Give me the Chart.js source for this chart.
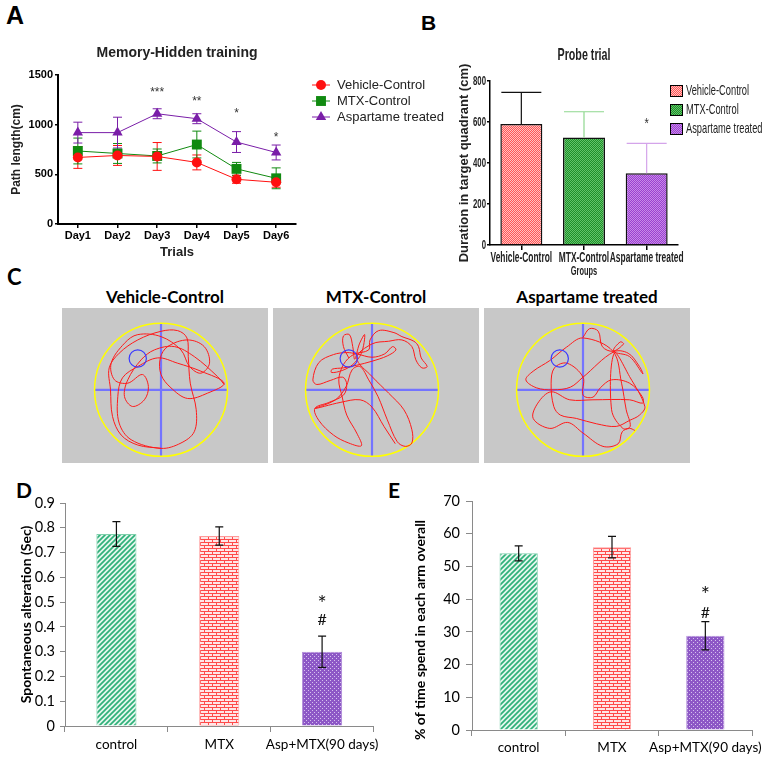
<!DOCTYPE html>
<html>
<head>
<meta charset="utf-8">
<script src="https://cdn.jsdelivr.net/npm/chart.js@4.4.1/dist/chart.umd.min.js"></script>
<style>
body { margin: 0; background: #fff; width: 771px; height: 763px; position: relative; overflow: hidden; }
canvas { position: absolute; }
.letter { position: absolute; font-weight: bold; color: #000; line-height: 1; }
.ctitle { position: absolute; width: 206px; text-align: center; font: bold 17px Lato, 'Open Sans', sans-serif; color: #000; }
.pool { background: #c8c8c8; }
</style>
</head>
<body>
<div class="letter" style="left:6px;top:3px;font-size:25px;font-family:'Liberation Sans',Arial">A</div>
<div class="letter" style="left:421px;top:12px;font-size:21px;font-family:'Liberation Sans',Arial">B</div>
<div class="letter" style="left:7px;top:266px;font-size:22px;font-family:Lato,sans-serif">C</div>
<div class="letter" style="left:16px;top:479px;font-size:21px;font-family:Lato,sans-serif">D</div>
<div class="letter" style="left:388px;top:479px;font-size:21px;font-family:Lato,sans-serif">E</div>

<div class="ctitle" style="left:62px;top:286px">Vehicle-Control</div>
<div class="ctitle" style="left:273px;top:286px">MTX-Control</div>
<div class="ctitle" style="left:484px;top:286px">Aspartame treated</div>

<canvas id="chartA" width="450" height="262" style="left:0;top:0"></canvas>
<canvas id="chartB" width="381" height="282" style="left:390px;top:0"></canvas>
<canvas id="poolVehicle" class="pool" width="206" height="155" style="left:62px;top:308px"></canvas>
<canvas id="poolMtx" class="pool" width="206" height="155" style="left:273px;top:308px"></canvas>
<canvas id="poolAsp" class="pool" width="206" height="155" style="left:484px;top:308px"></canvas>
<canvas id="chartD" width="385" height="293" style="left:0;top:470px"></canvas>
<canvas id="chartE" width="386" height="293" style="left:385px;top:470px"></canvas>

<script>
// A: memory hidden training
const days = ['Day1', 'Day2', 'Day3', 'Day4', 'Day5', 'Day6'];
const vehicleLen = [670, 690, 680, 620, 450, 420];
const vehicleLenErr = [110, 100, 140, 75, 40, 50];
const mtxLen = [735, 710, 685, 800, 555, 460];
const mtxLenErr = [130, 100, 70, 135, 65, 105];
const aspLen = [920, 920, 1110, 1060, 825, 720];
const aspLenErr = [105, 155, 50, 50, 105, 75];
const starsA = [[], [], [['***', 1340]], [['**', 1250]], [['*', 1130]], [['*', 890]]];
const ticksA = [0, 500, 1000, 1500];

// B: probe trial
const probeTitle = 'Probe trial';
const probeAxisX = 'Groups';
const probeGroups = ['Vehicle-Control', 'MTX-Control', 'Aspartame treated'];
const probeDur = [590, 525, 350];
const probeErr = [155, 125, 146];
const starsB = [[], [], [['*', 600]]];

// C: swim tracks, pool radius = 1
const poolRadius = 1;
const platform = [-0.35, 0.47, 0.13];
const trackVehicle = [[0,-0.88],[-0.35,-0.83],[-0.6,-0.68],[-0.73,-0.4],[-0.76,0],[-0.78,0.33],[-0.63,0.55],[-0.35,0.75],[0,0.88],[0.25,0.89],[0.39,0.78],[0.41,0.5],[0.44,0.1],[0.53,-0.3],[0.5,-0.63],[0.3,-0.8],[0,-0.88],[-0.45,-0.75],[-0.63,-0.5],[-0.65,-0.1],[-0.58,0.18],[-0.35,0.35],[-0.05,0.48],[0.25,0.4],[0.6,0.28],[0.95,0.1],[0.7,-0.05],[0.4,-0.13],[0.15,0.03],[0,0.23],[-0.01,0.48],[0.1,0.65],[0.4,0.75],[0.65,0.65],[0.73,0.4],[0.6,0.25],[0.43,0.35],[0.3,0.6],[0,0.8],[-0.35,0.83],[-0.55,0.7],[-0.75,0.4],[-0.7,0.15],[-0.5,0.1],[-0.28,0.23],[-0.19,0.05],[-0.25,-0.15],[-0.43,-0.25],[-0.55,-0.1],[-0.5,0.15],[-0.3,0.45],[-0.1,0.6],[0.2,0.65],[0.5,0.5],[0.85,0.2],[0.95,0.08]];
const trackMtx = [[-0.35,0.48],[-0.43,0.65],[-0.43,0.81],[-0.34,0.83],[-0.29,0.65],[-0.26,0.46],[-0.19,0.69],[-0.11,0.83],[-0.16,0.55],[-0.29,0.38],[-0.45,0.29],[-0.61,0.26],[-0.6,0.31],[-0.43,0.33],[-0.23,0.37],[0,0.43],[0.23,0.51],[0.36,0.6],[0.31,0.65],[0.19,0.54],[0,0.49],[-0.23,0.54],[-0.38,0.56],[-0.58,0.53],[-0.8,0.41],[-0.89,0.15],[-0.83,0.08],[-0.63,0.14],[-0.44,0.19],[-0.38,0.08],[-0.43,-0.08],[-0.65,-0.19],[-0.86,-0.28],[-0.8,-0.46],[-0.58,-0.68],[-0.35,-0.8],[-0.16,-0.84],[-0.23,-0.65],[-0.38,-0.38],[-0.45,-0.1],[-0.5,0.15],[-0.43,0.38],[-0.28,0.53],[-0.05,0.6],[-0.03,0.75],[0.1,0.89],[0.33,0.86],[0.45,0.8],[0.63,0.73],[0.7,0.65],[0.74,0.48],[0.83,0.35],[0.75,0.33],[0.66,0.45],[0.6,0.65],[0.45,0.75],[0.25,0.73],[0,0.69],[-0.23,0.48],[0,0.2],[0.25,-0.05],[0.48,-0.3],[0.6,-0.6],[0.6,-0.8],[0.5,-0.85],[0.38,-0.78],[0.23,-0.45],[0.09,-0.1],[-0.05,0.15],[-0.18,0.35],[-0.3,0.3],[-0.39,0.05],[-0.55,-0.15],[-0.86,-0.28],[-0.48,-0.19],[-0.18,-0.15],[0,-0.26],[0.18,-0.55],[0.35,-0.81]];
const trackAsp = [[0,0.79],[0.1,0.92],[0.23,0.88],[0.29,0.65],[0.45,0.58],[0.61,0.69],[0.56,0.72],[0.46,0.58],[0.7,0.5],[0.9,0.24],[0.85,0.35],[0.68,0.55],[0.46,0.57],[0,0.19],[-0.19,0.04],[-0.45,0],[-0.7,0.03],[-0.86,0.15],[-0.75,0.28],[-0.5,0.44],[-0.25,0.64],[0,0.78],[0.45,0.58],[0.58,0.1],[0.65,-0.3],[0.71,-0.55],[0.6,-0.58],[0.43,-0.3],[0.47,0.55],[0.7,0.2],[0.93,-0.25],[0.85,-0.38],[0.7,-0.46],[0.5,-0.55],[0.2,-0.51],[-0.1,-0.43],[-0.34,-0.38],[-0.44,-0.25],[-0.48,0.1],[-0.43,0.33],[-0.24,0.4],[0,0.19],[0,-0.08],[0.15,-0.11],[0.26,0.03],[0.43,0.15],[0.7,0.1],[0.89,-0.1],[0.9,-0.2],[0.7,-0.15],[0.15,-0.15],[-0.2,-0.15],[-0.48,-0.03],[-0.68,-0.2],[-0.75,-0.43],[-0.5,-0.58],[-0.23,-0.49],[0,-0.65],[0.3,-0.85],[0.53,-0.81],[0.59,-0.63],[0.7,-0.58],[0.78,-0.61]];

// D and E: Y-maze
const mazeGroups = ['control', 'MTX', 'Asp+MTX(90 days)'];
const altValues = [0.775, 0.767, 0.30];
const altErr = [0.05, 0.037, 0.063];
const altMarks = [[], [], [['*', 0.508], ['#', 0.428]]];
const armValues = [54.0, 55.9, 28.8];
const armErr = [2.3, 3.3, 4.3];
const armMarks = [[], [], [['*', 42.3], ['#', 35.9]]];

const ARIAL = "'Liberation Sans', Arial, sans-serif";
const CAL = "Lato, 'Open Sans', sans-serif";

Chart.defaults.animation = false;
Chart.defaults.responsive = false;
Chart.defaults.plugins.legend.display = false;
Chart.defaults.plugins.tooltip.enabled = false;
Chart.defaults.color = '#000';

function makePattern(w, h, draw) {
    const c = document.createElement('canvas');
    c.width = w; c.height = h;
    const g = c.getContext('2d');
    draw(g);
    return g.createPattern(c, 'repeat');
}

function checker(a, b) {
    return makePattern(2, 2, g => {
        g.fillStyle = a; g.fillRect(0, 0, 2, 2);
        g.fillStyle = b; g.fillRect(0, 0, 1, 1); g.fillRect(1, 1, 1, 1);
    });
}

const greenStripes = makePattern(5, 5, g => {
    g.fillStyle = '#e4f6ed'; g.fillRect(0, 0, 5, 5);
    g.strokeStyle = '#2fb07a'; g.lineWidth = 1.7;
    g.beginPath();
    g.moveTo(-1, 6); g.lineTo(6, -1);
    g.moveTo(-1, 1); g.lineTo(1, -1);
    g.moveTo(4, 6); g.lineTo(6, 4);
    g.stroke();
});
const redBricks = makePattern(8, 6, g => {
    g.fillStyle = '#ffe6e6'; g.fillRect(0, 0, 8, 6);
    g.fillStyle = '#ff4a4a';
    g.fillRect(0, 0, 8, 1); g.fillRect(0, 3, 8, 1);
    g.fillRect(0, 0, 1, 3); g.fillRect(4, 3, 1, 3);
});
const purpleDots = makePattern(4, 4, g => {
    g.fillStyle = '#8d58c6'; g.fillRect(0, 0, 4, 4);
    g.fillStyle = '#d6c2ee';
    g.fillRect(0, 0, 1, 1); g.fillRect(2, 2, 1, 1);
});

// text squeezed sideways, the probe-trial panel uses a condensed face
function squeezed(ctx, text, x, y, font, sx, align, rot) {
    ctx.save();
    ctx.font = font;
    ctx.textAlign = align || 'center';
    ctx.textBaseline = 'middle';
    ctx.translate(x, y);
    if (rot) ctx.rotate(rot);
    ctx.scale(sx, 1);
    ctx.fillText(text, 0, 0);
    ctx.restore();
}

function errorBars(errs, opts) {
    return {
        id: 'errorBars',
        [opts.under ? 'beforeDatasetsDraw' : 'afterDatasetsDraw'](chart) {
            const {ctx} = chart;
            const y = chart.scales.y;
            chart.data.datasets.forEach((ds, di) => {
                chart.getDatasetMeta(di).data.forEach((el, i) => {
                    const v = ds.data[i], e = errs[di][i];
                    const top = y.getPixelForValue(v + e);
                    const bot = opts.upOnly ? y.getPixelForValue(v) : y.getPixelForValue(v - e);
                    const cap = opts.cap / 2;
                    ctx.save();
                    ctx.strokeStyle = opts.colors ? opts.colors[i] : (opts.color || ds.borderColor);
                    ctx.lineWidth = opts.width || 1;
                    ctx.beginPath();
                    ctx.moveTo(el.x, top); ctx.lineTo(el.x, bot);
                    ctx.moveTo(el.x - cap, top); ctx.lineTo(el.x + cap, top);
                    if (!opts.upOnly) { ctx.moveTo(el.x - cap, bot); ctx.lineTo(el.x + cap, bot); }
                    ctx.stroke();
                    ctx.restore();
                });
            });
        }
    };
}

// stars / hashes above groups; '*' is drawn a little larger so it reads like the figure
function marks(list, size, family, color, sx, starScale) {
    return {
        id: 'marks',
        afterDraw(chart) {
            const {ctx} = chart;
            const x = chart.scales.x, y = chart.scales.y;
            ctx.save();
            ctx.fillStyle = color;
            list.forEach((items, i) => {
                items.forEach(([t, v]) => {
                    const s = t[0] === '*' ? size * (starScale || 1) : size;
                    const dy = t[0] === '*' ? s * 0.18 : 0;
                    squeezed(ctx, t, x.getPixelForValue(i), y.getPixelForValue(v) + dy, s + 'px ' + family, sx || 1);
                });
            });
            ctx.restore();
        }
    };
}

// ---------- A ----------
const legendA = {
    id: 'legendA',
    afterDraw(chart) {
        const {ctx, chartArea} = chart;
        chart.data.datasets.forEach((ds, i) => {
            const x = chartArea.right + 16, y = chartArea.top + 10 + i * 16;
            ctx.save();
            ctx.strokeStyle = ds.borderColor; ctx.lineWidth = 1;
            ctx.beginPath(); ctx.moveTo(x, y); ctx.lineTo(x + 18, y); ctx.stroke();
            ctx.fillStyle = ds.pointBackgroundColor;
            Chart.helpers.drawPoint(ctx, {pointStyle: ds.pointStyle, radius: ds.pointRadius, rotation: 0, borderWidth: 0}, x + 9, y);
            ctx.fillStyle = '#222'; ctx.font = '13px ' + ARIAL; ctx.textBaseline = 'middle';
            ctx.fillText(ds.label, x + 25, y);
            ctx.restore();
        });
    }
};

function lineSet(label, data, color, style, r) {
    return {label, data, borderColor: color, backgroundColor: color, pointBackgroundColor: color,
        pointBorderWidth: 0, pointStyle: style, pointRadius: r, borderWidth: 1, tension: 0};
}

new Chart(document.getElementById('chartA'), {
    type: 'line',
    data: {
        labels: days,
        datasets: [
            lineSet('Vehicle-Control', vehicleLen, '#ff1010', 'circle', 5),
            lineSet('MTX-Control', mtxLen, '#108a10', 'rect', 7),
            lineSet('Aspartame treated', aspLen, '#7a1ea8', 'triangle', 6)
        ]
    },
    options: {
        layout: {padding: {left: 0, top: 0, right: 154, bottom: 0}},
        plugins: {
            title: {display: true, text: 'Memory-Hidden training', fullSize: false,
                font: {family: ARIAL, size: 14, weight: 'bold'}, color: '#222', padding: {top: 44.6, bottom: 13.6}}
        },
        scales: {
            x: {
                offset: true,
                afterFit: s => { s.height = 38; },
                grid: {drawOnChartArea: false, color: '#000', lineWidth: 1.5, tickLength: 4, offset: false},
                border: {color: '#000', width: 2},
                ticks: {font: {family: ARIAL, size: 11, weight: 'bold'}, padding: 1, color: '#000', maxRotation: 0},
                title: {display: true, text: 'Trials', font: {family: ARIAL, size: 13, weight: 'bold'}, padding: {top: 0, bottom: 2.2}, color: '#222'}
            },
            y: {
                min: 0, max: 1500,
                afterFit: s => { s.width = 58; },
                afterBuildTicks: s => { s.ticks = ticksA.map(v => ({value: v})); },
                grid: {drawOnChartArea: false, color: '#000', lineWidth: 1.5, tickLength: 3},
                border: {color: '#000', width: 2},
                ticks: {font: {family: ARIAL, size: 11, weight: 'bold'}, padding: 2, color: '#000', callback: v => String(v)},
                title: {display: true, text: 'Path length(cm)', font: {family: ARIAL, size: 12, weight: 'bold'}, padding: {top: 9.8, bottom: 0}, color: '#222'}
            }
        }
    },
    plugins: [
        errorBars([vehicleLenErr, mtxLenErr, aspLenErr], {cap: 9, under: true}),
        marks(starsA, 12, ARIAL, '#333'),
        legendA
    ]
});

// ---------- B ----------
const probeFills = [checker('#ff5555', '#ffc2c2'), checker('#1f8f2a', '#62c46a'), checker('#9a3fd0', '#c88ae8')];

const probeText = {
    id: 'probeText',
    afterDraw(chart) {
        const {ctx, chartArea} = chart;
        const x = chart.scales.x, y = chart.scales.y;
        const mid = (chartArea.left + chartArea.right) / 2;
        ctx.save();
        ctx.fillStyle = '#222';
        squeezed(ctx, probeTitle, mid, 55, 'bold 17px ' + ARIAL, 0.63);
        chart.data.labels.forEach((label, i) =>
            squeezed(ctx, label, x.getPixelForValue(i), chartArea.bottom + 13, 'bold 14px ' + ARIAL, 0.6));
        squeezed(ctx, probeAxisX, mid, chartArea.bottom + 27, 'bold 12px ' + ARIAL, 0.62);
        y.ticks.forEach(t =>
            squeezed(ctx, String(t.value), chartArea.left - 4, y.getPixelForValue(t.value), 'bold 13px ' + ARIAL, 0.6, 'right'));
        // legend
        const fills = chart.data.datasets[0].backgroundColor;
        chart.data.labels.forEach((label, i) => {
            const lx = chartArea.right - 8, ly = chartArea.top + 10 + i * 19;
            ctx.fillStyle = fills[i];
            ctx.fillRect(lx, ly - 6, 13, 12);
            ctx.strokeStyle = '#000'; ctx.lineWidth = 1;
            ctx.strokeRect(lx + 0.5, ly - 5.5, 12, 11);
            ctx.fillStyle = '#222';
            squeezed(ctx, label, lx + 16, ly, '15px ' + ARIAL, 0.62, 'left');
        });
        ctx.restore();
    }
};

new Chart(document.getElementById('chartB'), {
    type: 'bar',
    data: {
        labels: probeGroups,
        datasets: [{
            data: probeDur,
            backgroundColor: probeFills,
            borderColor: '#111',
            borderWidth: 1.5,
            barPercentage: 0.67,
            categoryPercentage: 1
        }]
    },
    options: {
        layout: {padding: {left: 62, top: 81, right: 93, bottom: 0}},
        scales: {
            x: {
                afterFit: s => { s.height = 37; },
                grid: {drawOnChartArea: false, color: '#000', lineWidth: 1.5, tickLength: 5, offset: false},
                border: {color: '#000', width: 1.5},
                ticks: {display: false}
            },
            y: {
                min: 0, max: 800,
                afterFit: s => { s.width = 38; },
                grid: {drawOnChartArea: false, color: '#000', lineWidth: 1.5, tickLength: 3},
                border: {color: '#000', width: 1.5},
                ticks: {stepSize: 200, display: false},
                title: {display: true, text: 'Duration in target quadrant (cm)', font: {family: ARIAL, size: 13, weight: 'bold'}, padding: {top: 5, bottom: 0}, color: '#222'}
            }
        }
    },
    plugins: [
        errorBars([probeErr], {cap: 40, upOnly: true, colors: ['#111', '#8fd88f', '#d4a4ea'], width: 1.2}),
        marks(starsB, 14, ARIAL, '#333', 0.8),
        probeText
    ]
});

// ---------- C ----------
const poolPlugin = {
    id: 'pool',
    beforeDatasetsDraw(chart) {
        const {ctx} = chart;
        const x = chart.scales.x, y = chart.scales.y;
        const cx = x.getPixelForValue(0), cy = y.getPixelForValue(0);
        const rx = x.getPixelForValue(poolRadius) - cx, ry = cy - y.getPixelForValue(poolRadius);
        ctx.save();
        ctx.strokeStyle = '#7474ff'; ctx.lineWidth = 2.2;
        ctx.beginPath();
        ctx.moveTo(cx - rx, cy); ctx.lineTo(cx + rx, cy);
        ctx.moveTo(cx, cy - ry); ctx.lineTo(cx, cy + ry);
        ctx.stroke();
        ctx.strokeStyle = '#ffff00'; ctx.lineWidth = 1.5;
        ctx.beginPath(); ctx.ellipse(cx, cy, rx, ry, 0, 0, Math.PI * 2); ctx.stroke();
        ctx.restore();
    },
    afterDatasetsDraw(chart) {
        const {ctx} = chart;
        const x = chart.scales.x, y = chart.scales.y;
        const px = x.getPixelForValue(platform[0]), py = y.getPixelForValue(platform[1]);
        const pr = x.getPixelForValue(platform[2]) - x.getPixelForValue(0);
        ctx.save();
        ctx.strokeStyle = '#3a3aff'; ctx.lineWidth = 1.2;
        ctx.beginPath(); ctx.arc(px, py, pr, 0, Math.PI * 2); ctx.stroke();
        ctx.restore();
    }
};

function trackChart(id, track) {
    new Chart(document.getElementById(id), {
        type: 'scatter',
        data: {
            datasets: [{
                data: track.map(p => ({x: p[0], y: p[1]})),
                showLine: true,
                borderColor: '#ff1a1a',
                borderWidth: 1,
                pointRadius: 0,
                tension: 0.35
            }]
        },
        options: {
            layout: {padding: 0},
            scales: {
                x: {display: false, min: -1.49, max: 1.61},
                y: {display: false, min: -1.1, max: 1.23}
            }
        },
        plugins: [poolPlugin]
    });
}
trackChart('poolVehicle', trackVehicle);
trackChart('poolMtx', trackMtx);
trackChart('poolAsp', trackAsp);

// ---------- D & E ----------
function mazeChart(id, values, errs, markList, cfg) {
    const yTitle = {
        id: 'yTitle',
        afterDraw(chart) {
            const {ctx, chartArea} = chart;
            ctx.save();
            ctx.fillStyle = '#000';
            const cy = cfg.titleY != null ? cfg.titleY : (chartArea.top + chartArea.bottom) / 2;
            squeezed(ctx, cfg.title, cfg.titleX, cy, 'bold 14px ' + CAL, 1, 'center', -Math.PI / 2);
            ctx.restore();
        }
    };
    new Chart(document.getElementById(id), {
        type: 'bar',
        data: {
            labels: mazeGroups,
            datasets: [{
                data: values,
                backgroundColor: [greenStripes, redBricks, purpleDots],
                borderColor: ['#7fd0ac', '#ff9a9a', '#b08ad8'],
                borderWidth: 1,
                barPercentage: cfg.barPct,
                categoryPercentage: 1
            }]
        },
        options: {
            layout: {padding: cfg.padding},
            scales: {
                x: {
                    afterFit: s => { s.height = cfg.xHeight; },
                    grid: {drawOnChartArea: false, color: '#8a8a8a', tickLength: 6, offset: true},
                    border: {color: '#8a8a8a', width: 1},
                    ticks: {font: {family: CAL, size: 13.5}, padding: cfg.xPad, color: '#000', maxRotation: 0, minRotation: 0, autoSkip: false}
                },
                y: {
                    min: 0, max: cfg.max,
                    afterFit: s => { s.width = cfg.yWidth; },
                    grid: {drawOnChartArea: false, color: '#8a8a8a', tickLength: cfg.yTick},
                    border: {color: '#8a8a8a', width: 1},
                    ticks: {stepSize: cfg.step, font: {family: CAL, size: 14.5}, padding: cfg.yPad, color: '#000'}
                }
            }
        },
        plugins: [
            errorBars([errs], {cap: 8, color: '#111', width: 1.2}),
            marks(markList, 16, CAL, '#111', 1, 1.35),
            yTitle
        ]
    });
}

mazeChart('chartD', altValues, altErr, altMarks, {
    max: 0.9, step: 0.1, title: 'Spontaneous alteration (Sec)', barPct: 0.39,
    padding: {left: 0, top: 33, right: 10, bottom: 0}, xHeight: 37, yWidth: 65,
    xPad: 5, yTick: 5, yPad: 5, titleX: 26
});
mazeChart('chartE', armValues, armErr, armMarks, {
    max: 70, step: 10, title: '% of time spend in each arm overall', barPct: 0.41,
    padding: {left: 0, top: 31, right: 19, bottom: 0}, xHeight: 33, yWidth: 87,
    xPad: 4, yTick: 6, yPad: 6, titleX: 35, titleY: 160
});
</script>
</body>
</html>
